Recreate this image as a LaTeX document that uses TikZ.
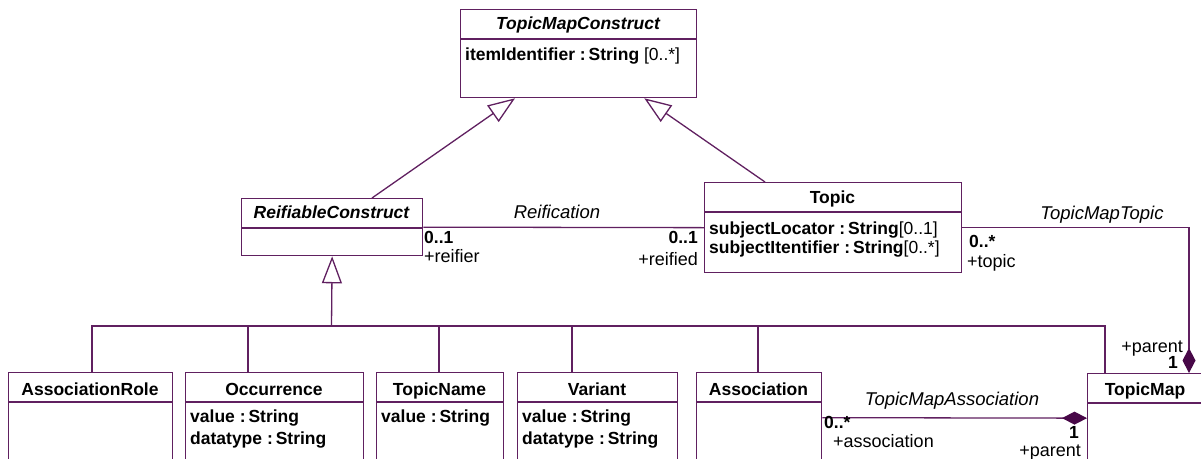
\documentclass[tikz,border=0pt]{standalone}
\usepackage{fontspec}
\setmainfont{Liberation Sans}
\usetikzlibrary{arrows.meta}
\definecolor{umlline}{RGB}{96,32,96}
\definecolor{umldia}{RGB}{72,8,72}
\begin{document}
\begin{tikzpicture}[x=1pt,y=-1pt,
  font=\fontsize{18}{20}\selectfont,
  box/.style={draw=umlline, line width=1.3pt, rectangle, inner sep=0pt, anchor=north west},
  line/.style={draw=umlline, line width=1.3pt},
  gen/.style={line, -{Triangle[open, length=27pt, width=20pt, fill=white]}},
  comp/.style={line, -{Diamond[length=25pt, width=13pt, color=umldia, fill=umldia]}},
  txt/.style={anchor=base west, inner sep=0pt, font=\fontsize{17.5}{20}\selectfont},
  role/.style={inner sep=0pt, font=\fontsize{18}{20}\selectfont},
  mult/.style={inner sep=0pt, font=\fontsize{17.5}{20}\selectfont\bfseries},
  lbl/.style={anchor=base, inner sep=0pt, font=\fontsize{18.5}{20}\selectfont\itshape},
  ttl/.style={anchor=base, inner sep=0pt, font=\fontsize{17.5}{20}\selectfont\bfseries},
  attl/.style={anchor=base, inner sep=0pt, font=\fontsize{17.5}{20}\selectfont\bfseries\itshape}
]
\useasboundingbox (0,0) rectangle (1201,458);
\clip (0,0) rectangle (1201,458);

% ---- classes ----
\node[box, minimum width=236pt, minimum height=88pt] (tmc) at (460,9) {};
\draw[line] (460,39) -- (696,39);
\node[attl] (tmct) at (578,29) {TopicMapConstruct};
\node[txt] (tmca) at (465,60) {\textbf{itemIdentifier :\,String} [0..*]};

\node[box, minimum width=181pt, minimum height=57pt] (rc) at (241,198) {};
\draw[line] (241,228) -- (422,228);
\node[attl] (rct) at (331.5,218) {ReifiableConstruct};

\node[box, minimum width=257pt, minimum height=90pt] (topic) at (704,182) {};
\draw[line] (704,212) -- (961,212);
\node[ttl] (topict) at (832.5,203) {Topic};
\node[txt] (topica1) at (709,234) {\textbf{subjectLocator :\,String}[0..1]};
\node[txt] (topica2) at (709,253) {\textbf{subjectItentifier :\,String}[0..*]};

\node[box, minimum width=164pt, minimum height=90pt] (ar) at (8,372) {};
\draw[line] (8,402) -- (172,402);
\node[ttl] (art) at (90,395) {AssociationRole};

\node[box, minimum width=178pt, minimum height=90pt] (occ) at (185,372) {};
\draw[line] (185,402) -- (363,402);
\node[ttl] (occt) at (274,395) {Occurrence};
\node[txt] (occa1) at (190,422) {\textbf{value :\,String}};
\node[txt] (occa2) at (190,444) {\textbf{datatype :\,String}};

\node[box, minimum width=127pt, minimum height=90pt] (tn) at (376,372) {};
\draw[line] (376,402) -- (503,402);
\node[ttl] (tnt) at (439.5,395) {TopicName};
\node[txt] (tna1) at (381,422) {\textbf{value :\,String}};

\node[box, minimum width=160pt, minimum height=90pt] (var) at (517,372) {};
\draw[line] (517,402) -- (677,402);
\node[ttl] (vart) at (597,395) {Variant};
\node[txt] (vara1) at (522,422) {\textbf{value :\,String}};
\node[txt] (vara2) at (522,444) {\textbf{datatype :\,String}};

\node[box, minimum width=125pt, minimum height=90pt] (assoc) at (696,372) {};
\draw[line] (696,402) -- (821,402);
\node[ttl] (assoct) at (758.5,395) {Association};

\node[box, minimum width=116pt, minimum height=89pt] (tm) at (1087,373) {};
\draw[line] (1087,403) -- (1203,403);
\node[ttl] (tmt) at (1145,395) {TopicMap};

% ---- generalizations ----
\draw[gen] ([xshift=131pt]rc.north west) -- ([xshift=55pt]tmc.south west);
\draw[gen] ([xshift=61pt]topic.north west) -- ([xshift=-53pt]tmc.south east);
\coordinate (bus) at (331.5,326);
\draw[gen] (bus) -- (rc.south);
\draw[line] ([xshift=84pt]ar.north west) |- (bus);
\draw[line] ([xshift=63pt]occ.north west) |- (bus);
\draw[line] ([xshift=63pt]tn.north west) |- (bus);
\draw[line] ([xshift=55pt]var.north west) |- (bus);
\draw[line] ([xshift=62pt]assoc.north west) |- (bus);
\draw[line] ([xshift=18pt]tm.north west) |- (bus);

% ---- associations ----
\draw[line] (rc.east) -- (topic.west);
\node[lbl] (reif) at (557,218) {Reification};
\node[mult, anchor=base west] (reifm1) at (424,243) {0..1};
\node[role, anchor=base west] (reifr1) at (424,262) {+reifier};
\node[mult, anchor=base east] (reifm2) at (698,243) {0..1};
\node[role, anchor=base east] (reifr2) at (698,265) {+reified};

\draw[comp] (topic.east) -| ([xshift=102pt]tm.north west);
\node[lbl] (tmtopic) at (1102,219) {TopicMapTopic};
\node[mult, anchor=base west] (tmtm1) at (969,247) {0..*};
\node[role, anchor=base west] (tmtr1) at (967,267) {+topic};
\node[role, anchor=base east] (tmtr2) at (1183,352) {+parent};
\node[mult, anchor=base east] (tmtm2) at (1178,368) {1};

\draw[comp] (assoc.east) -- (tm.west);
\node[lbl] (tmassoc) at (952,405) {TopicMapAssociation};
\node[mult, anchor=base west] (tmam1) at (824,428) {0..*};
\node[role, anchor=base west] (tmar1) at (833,447) {+association};
\node[mult, anchor=base east] (tmam2) at (1079,438.5) {1};
\node[role, anchor=base east] (tmar2) at (1081,456) {+parent};
\end{tikzpicture}
\end{document}
